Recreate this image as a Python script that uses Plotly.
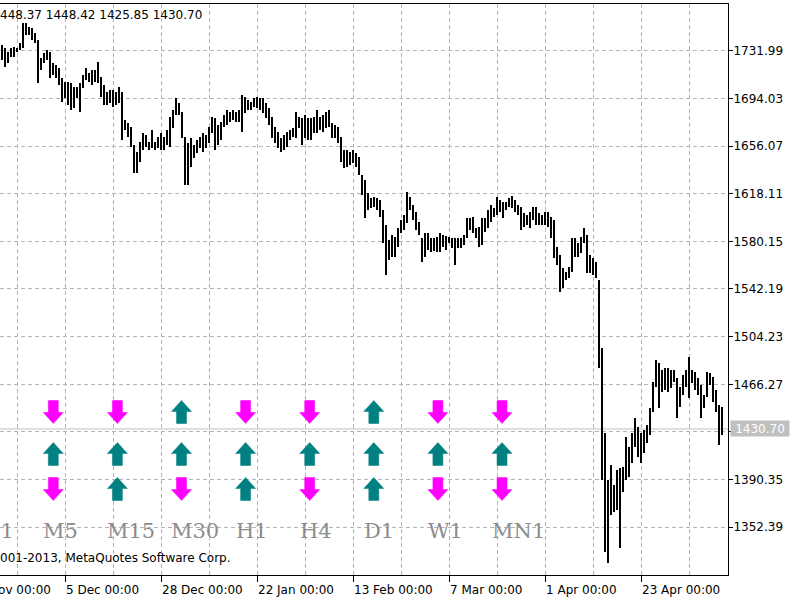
import plotly.graph_objects as go

# ---------------- data ----------------
highs = [
    1736.5, 1734.1, 1731.0, 1734.1, 1734.9, 1734.1, 1738.1, 1754.1, 1754.1, 1750.9,
    1750.1, 1746.1, 1740.5, 1726.2, 1730.2, 1732.5, 1731.0, 1722.2, 1720.6, 1718.2,
    1710.2, 1707.1, 1707.1, 1706.3, 1703.1, 1703.1, 1706.3, 1712.6, 1718.2, 1714.2,
    1716.6, 1716.6, 1723.0, 1711.0, 1704.7, 1699.1, 1700.7, 1700.7, 1699.1, 1703.1,
    1699.1, 1676.8, 1674.4, 1671.2, 1656.9, 1651.3, 1659.3, 1666.4, 1664.8, 1659.3,
    1668.8, 1659.3, 1663.3, 1666.4, 1663.3, 1668.8, 1679.2, 1684.8, 1694.3, 1690.3,
    1683.2, 1663.3, 1658.5, 1662.5, 1656.9, 1660.9, 1663.3, 1666.4, 1664.8, 1671.2,
    1679.2, 1678.4, 1672.8, 1675.2, 1680.8, 1684.8, 1683.2, 1684.8, 1683.2, 1684.8,
    1696.7, 1695.1, 1692.7, 1691.1, 1694.3, 1695.1, 1694.3, 1694.3, 1690.3, 1686.4,
    1679.2, 1671.2, 1667.2, 1662.5, 1664.8, 1667.2, 1668.8, 1670.4, 1683.2, 1679.2,
    1678.4, 1680.8, 1678.4, 1678.4, 1679.2, 1684.8, 1679.2, 1680.8, 1683.2, 1684.8,
    1674.4, 1672.8, 1671.2, 1663.3, 1652.9, 1652.9, 1651.3, 1652.9, 1650.5, 1647.3,
    1633.0, 1629.0, 1618.6, 1614.7, 1615.5, 1614.7, 1613.1, 1605.1, 1593.2, 1581.2,
    1585.2, 1583.6, 1590.8, 1597.1, 1601.1, 1619.4, 1615.5, 1609.1, 1603.5, 1595.6,
    1582.8, 1586.8, 1586.8, 1582.8, 1582.8, 1583.6, 1586.8, 1585.2, 1584.4, 1583.6,
    1582.8, 1582.8, 1582.8, 1582.8, 1585.2, 1598.7, 1598.7, 1599.5, 1590.8, 1591.6,
    1598.7, 1598.7, 1605.1, 1609.1, 1606.7, 1615.5, 1613.1, 1611.5, 1611.5, 1614.7,
    1616.3, 1613.1, 1609.1, 1607.5, 1602.7, 1601.1, 1603.5, 1607.5, 1607.5, 1602.7,
    1601.1, 1603.5, 1603.5, 1599.5, 1597.1, 1575.6, 1569.3, 1558.9, 1555.7, 1559.7,
    1582.8, 1582.8, 1578.8, 1583.6, 1590.8, 1585.2, 1569.3, 1566.9, 1563.7, 1549.4,
    1495.2, 1427.5, 1390.1, 1402.0, 1386.1, 1398.0, 1399.6, 1400.4, 1424.3, 1416.3,
    1427.5, 1439.4, 1432.3, 1427.5, 1429.9, 1433.9, 1447.4, 1468.1, 1485.6, 1483.2,
    1477.7, 1479.3, 1479.3, 1477.7, 1477.7, 1471.3, 1464.1, 1473.7, 1477.7, 1488.0,
    1477.7, 1476.1, 1471.3, 1465.7, 1457.8, 1476.1, 1475.3, 1472.1, 1461.7, 1449.8,
    1448.42,
]
lows = [
    1724.6, 1719.0, 1722.2, 1727.0, 1727.0, 1731.0, 1732.5, 1734.1, 1744.5, 1744.5,
    1740.5, 1738.1, 1706.3, 1716.6, 1722.2, 1724.6, 1710.2, 1712.6, 1710.2, 1704.7,
    1691.1, 1694.3, 1688.7, 1684.8, 1686.4, 1694.3, 1683.2, 1702.3, 1708.7, 1707.1,
    1704.7, 1707.1, 1706.3, 1695.1, 1688.7, 1688.7, 1690.3, 1687.1, 1688.7, 1690.3,
    1660.9, 1668.8, 1663.3, 1655.3, 1634.6, 1634.6, 1643.3, 1652.9, 1655.3, 1652.9,
    1654.5, 1652.9, 1654.5, 1652.9, 1652.9, 1656.9, 1655.3, 1670.4, 1680.8, 1680.8,
    1662.5, 1625.0, 1625.0, 1639.4, 1646.5, 1650.5, 1654.5, 1651.3, 1654.5, 1658.5,
    1666.4, 1652.9, 1656.9, 1660.9, 1671.2, 1672.8, 1675.2, 1676.8, 1675.2, 1675.2,
    1667.2, 1682.4, 1684.8, 1684.8, 1687.1, 1686.4, 1684.8, 1682.4, 1678.4, 1672.8,
    1662.5, 1658.5, 1654.5, 1651.3, 1652.9, 1655.3, 1660.9, 1663.3, 1662.5, 1670.4,
    1656.9, 1662.5, 1660.9, 1660.9, 1666.4, 1666.4, 1668.8, 1667.2, 1670.4, 1671.2,
    1662.5, 1662.5, 1658.5, 1643.3, 1638.6, 1639.4, 1641.0, 1642.5, 1639.4, 1633.0,
    1617.1, 1598.7, 1605.1, 1606.7, 1607.5, 1605.1, 1599.5, 1578.8, 1553.3, 1565.3,
    1567.7, 1567.7, 1575.6, 1586.8, 1589.2, 1594.8, 1605.1, 1597.1, 1589.2, 1585.2,
    1563.7, 1567.7, 1573.2, 1571.7, 1572.5, 1571.7, 1571.7, 1575.6, 1573.2, 1578.8,
    1574.8, 1561.3, 1574.8, 1574.8, 1577.2, 1582.8, 1589.2, 1586.8, 1582.8, 1575.6,
    1577.2, 1587.6, 1590.8, 1595.6, 1599.5, 1601.1, 1603.5, 1598.7, 1605.1, 1607.5,
    1606.7, 1603.5, 1601.1, 1589.2, 1591.6, 1593.2, 1590.8, 1597.1, 1593.2, 1593.2,
    1593.2, 1593.2, 1591.6, 1582.8, 1566.9, 1561.3, 1539.8, 1543.0, 1549.4, 1550.9,
    1555.7, 1567.7, 1567.7, 1570.9, 1578.8, 1554.9, 1554.9, 1553.3, 1550.9, 1479.3,
    1390.1, 1332.7, 1323.9, 1362.2, 1364.6, 1366.2, 1335.9, 1380.5, 1390.1, 1392.4,
    1403.6, 1416.3, 1408.4, 1403.6, 1411.6, 1419.5, 1425.9, 1444.2, 1464.1, 1447.4,
    1460.1, 1461.7, 1460.1, 1463.3, 1468.1, 1439.4, 1448.2, 1457.8, 1464.1, 1455.4,
    1467.3, 1461.7, 1457.8, 1439.4, 1447.4, 1456.2, 1465.7, 1452.2, 1444.2, 1417.9,
    1425.85,
]
n = min(len(highs), len(lows))
highs, lows = highs[:n], lows[:n]
bar_index = list(range(n))

last_open, last_high, last_low, last_close = 1448.37, 1448.42, 1425.85, 1430.70

date_tick_index = [-11, 21, 53, 85, 117, 149, 181, 213]
date_tick_labels = ["13 Nov 00:00", "5 Dec 00:00", "28 Dec 00:00", "22 Jan 00:00",
                    "13 Feb 00:00", "7 Mar 00:00", "1 Apr 00:00", "23 Apr 00:00"]
grid_index = [5, 21, 37, 53, 69, 85, 101, 117, 133, 149, 165, 181, 197, 213, 229]

price_ticks = [1352.39, 1390.35, 1428.31, 1466.27, 1504.23, 1542.19,
               1580.15, 1618.11, 1656.07, 1694.03, 1731.99]

timeframes = ["M1", "M5", "M15", "M30", "H1", "H4", "D1", "W1", "MN1"]
signal_row1 = [-1, -1, -1, 1, -1, -1, 1, -1, -1]
signal_row2 = [1, 1, 1, 1, 1, 1, 1, 1, 1]
signal_row3 = [-1, -1, 1, -1, 1, -1, 1, -1, -1]

# ---------------- layout / style constants ----------------
W, H = 800, 600
ML, MR, MT, MB = 0, 72, 4, 25
PW, PH = W - ML - MR, H - MT - MB
X_RANGE = [-2 / 3, 242]
Y_RANGE = [1314.37, 1769.19]
GRID = "#b4b4b4"
UP_COLOR, DOWN_COLOR = "#008080", "#ff00ff"
COL0, COL_STEP = -10.8, 64.1
ROW_Y = [412, 454, 489]
LABEL_Y = 531
FONT = "DejaVu Sans"

fig = go.Figure()

# OHLC bars drawn as high-low bars
fig.add_trace(go.Bar(
    x=bar_index, y=[h - l for h, l in zip(highs, lows)], base=lows,
    width=0.667, marker=dict(color="black", line=dict(width=0)),
    hoverinfo="skip",
))

# arrows (signals per timeframe) on a pixel overlay
ARROW_DX = [0, 10, 5, 5, -5, -5, -10, 0]
ARROW_DY = [-11.5, -0.5, -0.5, 11.5, 11.5, -0.5, -0.5, -11.5]
up_x, up_y, dn_x, dn_y = [], [], [], []
for r, row in enumerate([signal_row1, signal_row2, signal_row3]):
    for c, s in enumerate(row):
        cx = COL0 + c * COL_STEP
        cy = ROW_Y[r]
        if s > 0:
            up_x += [cx + d for d in ARROW_DX] + [None]
            up_y += [cy + d for d in ARROW_DY] + [None]
        else:
            dn_x += [cx + d for d in ARROW_DX] + [None]
            dn_y += [cy - d for d in ARROW_DY] + [None]
for xs, ys, col in [(up_x, up_y, UP_COLOR), (dn_x, dn_y, DOWN_COLOR)]:
    fig.add_trace(go.Scatter(
        x=xs, y=ys, xaxis="x2", yaxis="y2", mode="lines", fill="toself",
        fillcolor=col, line=dict(color=col, width=0.5), hoverinfo="skip",
    ))

annotations = []
# date labels, left-aligned at their tick
for idx, lab in zip(date_tick_index, date_tick_labels):
    annotations.append(dict(
        x=(idx - X_RANGE[0]) / (X_RANGE[1] - X_RANGE[0]), xref="paper", xanchor="left",
        y=0, yref="paper", yanchor="middle", yshift=-15, xshift=-1,
        text=lab, showarrow=False, font=dict(family=FONT, size=12, color="black"),
    ))
# timeframe labels
for c, tf in enumerate(timeframes):
    cx = COL0 + c * COL_STEP
    annotations.append(dict(
        x=(cx - 12) / PW, xref="paper", xanchor="left",
        y=(PH + MT - LABEL_Y) / PH, yref="paper", yanchor="middle",
        text=tf, showarrow=False,
        font=dict(family="DejaVu Serif", size=21, color="#8c8c8c"),
    ))
# OHLC header of the last bar (clipped at the left edge)
annotations.append(dict(
    x=0, xref="paper", xanchor="left", xshift=-2, y=1, yref="paper", yanchor="middle", yshift=-11,
    text=f"{last_open:.2f} {last_high:.2f} {last_low:.2f} {last_close:.2f}"[1:],
    showarrow=False, font=dict(family=FONT, size=12, color="black"),
))
# copyright line
annotations.append(dict(
    x=0, xref="paper", xanchor="left", xshift=-2, y=(PH + MT - 558) / PH, yref="paper",
    yanchor="middle", text="001-2013, MetaQuotes Software Corp.", showarrow=False,
    font=dict(family=FONT, size=12, color="black"),
))
# current price label
annotations.append(dict(
    x=1, xref="paper", xanchor="left", xshift=2, y=last_close, yref="y", yanchor="middle",
    text=f"{last_close:.2f}", showarrow=False, bgcolor="#c0c0c0", borderpad=0,
    width=58, height=15, align="center",
    font=dict(family=FONT, size=12, color="white"),
))

price_text = [f"{v:.2f}" for v in price_ticks]
price_text[price_ticks.index(1428.31)] = ""  # hidden behind the price label

fig.update_layout(
    width=W, height=H, margin=dict(l=ML, r=MR, t=MT, b=MB),
    paper_bgcolor="white", plot_bgcolor="white", showlegend=False,
    bargap=0,
    xaxis=dict(
        range=X_RANGE, tickmode="array", tickvals=date_tick_index[1:],
        showticklabels=False, ticks="outside", ticklen=6, tickcolor="black",
        showgrid=True, gridcolor=GRID, griddash="4px,3px", gridwidth=1,
        minor=dict(tickmode="array", tickvals=grid_index, showgrid=True,
                   gridcolor=GRID, griddash="4px,3px", gridwidth=1, ticks=""),
        showline=True, linecolor="black", linewidth=1, mirror=True, zeroline=False,
    ),
    yaxis=dict(
        side="right", range=Y_RANGE, tickmode="array", tickvals=price_ticks,
        ticktext=price_text, ticks="outside", ticklen=4, tickcolor="black",
        ticklabelstandoff=-2,
        tickfont=dict(family=FONT, size=12, color="black"),
        showgrid=True, gridcolor=GRID, griddash="4px,3px", gridwidth=1,
        showline=True, linecolor="black", linewidth=1, zeroline=False,
    ),
    xaxis2=dict(overlaying="x", range=[0, PW], visible=False),
    yaxis2=dict(overlaying="y", range=[PH + MT, MT], visible=False),
    annotations=annotations,
    shapes=[dict(type="line", xref="paper", x0=0, x1=1, yref="y", y0=last_close, y1=last_close,
                 line=dict(color="#c0c0c0", width=1), layer="below")],
)

fig.write_html("out.html")
